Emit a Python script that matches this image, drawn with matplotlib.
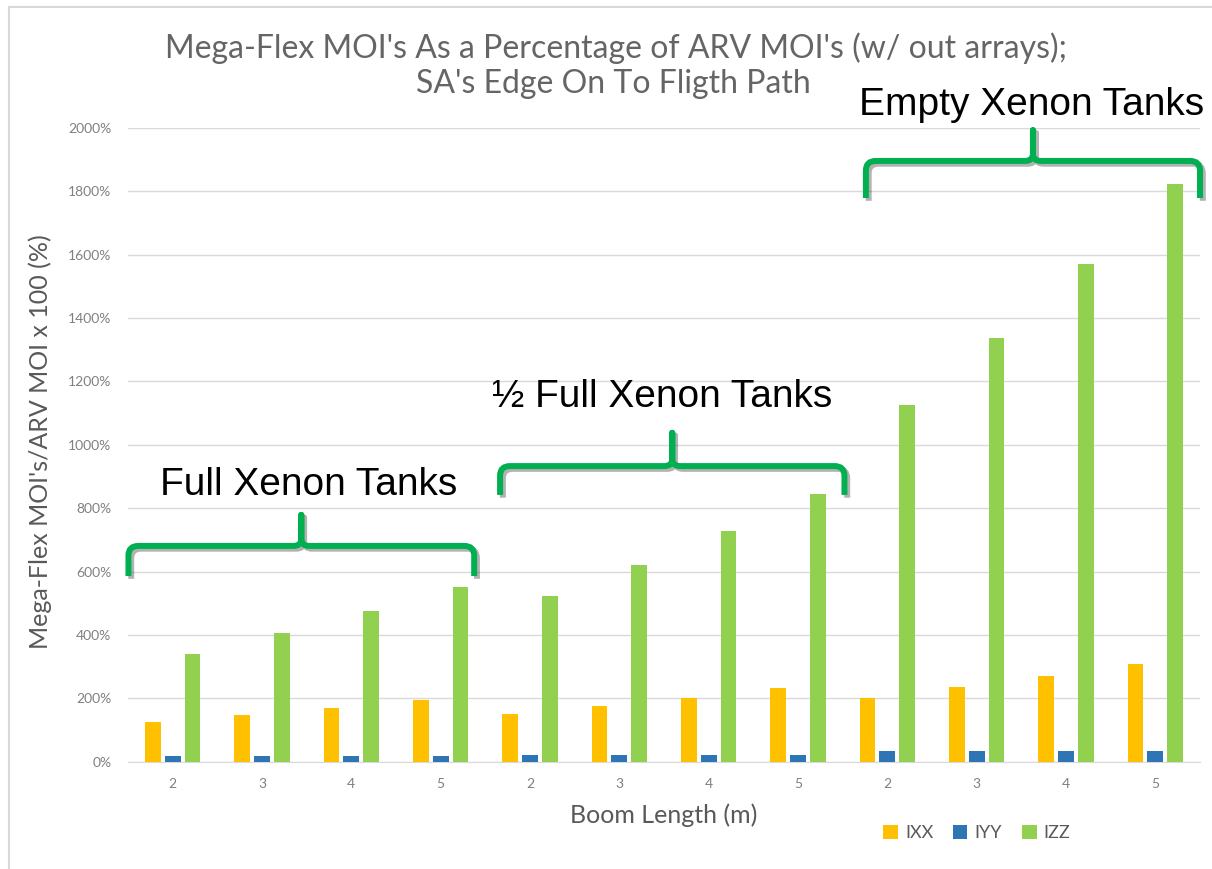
import matplotlib
matplotlib.use('Agg')
import matplotlib.pyplot as plt
import matplotlib.patheffects as pe
import numpy as np
from matplotlib.path import Path
from matplotlib.patches import PathPatch, Rectangle

# boom length categories, repeated for the three tank states
boom_lengths = ['2', '3', '4', '5']
tank_states = ['Full Xenon Tanks', '½ Full Xenon Tanks', 'Empty Xenon Tanks']
series_names = ['IXX', 'IYY', 'IZZ']
title_lines = ["Mega-Flex MOI's As a Percentage of ARV MOI's (w/ out arrays);",
               "SA's Edge On To Fligth Path"]

# MOI ratio in percent (full, half, empty)
ixx = [124, 146, 171, 195, 149, 176, 202, 232, 202, 235, 272, 309]
iyy = [17, 17, 17, 17, 21, 21, 21, 21, 33, 33, 33, 33]
izz = [341, 405, 475, 552, 523, 620, 727, 845, 1126, 1337, 1571, 1824]

# brace annotations: span in category index, levels in %
brace_x0 = [-0.495, 3.665, 7.76]
brace_x1 = [3.375, 7.52, 11.5]
brace_bottom = [586, 842, 1779]
brace_mid = [681, 933, 1896]
brace_tip = [779, 1038, 1993]
label_x = [1.52, 5.48, 9.61]
label_y = [842, 1120, 2041]

colors = ['#FFC000', '#2E75B6', '#92D050']
grey = '#595959'

plt.rcParams['font.family'] = ['Lato', 'DejaVu Sans']

fig = plt.figure(figsize=(12.12, 8.69), dpi=100)
ax = fig.add_axes([128 / 1212, 1 - 761.7 / 869, 1072 / 1212, 633.7 / 869])

x = np.arange(len(boom_lengths) * len(tank_states))
width = 0.178
step = 0.222
bars = []
for i, (vals, name) in enumerate(zip([ixx, iyy, izz], series_names)):
    b = ax.bar(x + (i - 1) * step, vals, width, color=colors[i], label=name, zorder=3)
    bars.append(b)

ax.set_xlim(-0.5, len(x) - 0.5)
ax.set_ylim(0, 2000)
ax.set_yticks(np.arange(0, 2001, 200))
ax.set_yticklabels([f'{v}%' for v in range(0, 2001, 200)])
ax.set_xticks(x)
ax.set_xticklabels(boom_lengths * len(tank_states))
ax.tick_params(axis='both', length=0, labelsize=10, labelcolor='#808080')
ax.tick_params(axis='y', pad=12)
ax.tick_params(axis='x', pad=12)
ax.grid(axis='y', color='#D9D9D9', lw=1, zorder=0)
for s in ['top', 'right', 'left']:
    ax.spines[s].set_visible(False)
ax.spines['bottom'].set_color('#D9D9D9')
ax.set_axisbelow(True)

ax.set_ylabel("Mega-Flex MOI's/ARV MOI x 100 (%)", fontsize=18, color=grey)
ax.yaxis.set_label_coords(-0.071, 0.505)
ax.set_xlabel('Boom Length (m)', fontsize=18, color=grey)
ax.xaxis.set_label_coords(0.5, -0.084)
ax.xaxis.label.set_va('center')

# title, one text per line so it stays clear of the "Empty" label
fig.text(0.508, 1 - 58.3 / 869, title_lines[0], ha='center', va='baseline',
         fontsize=23, color='#656565')
fig.text(0.506, 1 - 92.7 / 869, title_lines[1], ha='center', va='baseline',
         fontsize=23, color='#656565')

fig.legend(handles=bars, loc='center', bbox_to_anchor=(0.806, 0.041), ncol=3, frameon=False,
           fontsize=13, labelcolor=grey, handlelength=0.8, handleheight=0.8, handletextpad=0.4,
           columnspacing=1.1)


def brace(ax, x0, x1, yb, ym, yt):
    xm = (x0 + x1) / 2
    dx = 0.11
    dy = 30
    dc = 22
    verts = [(x0, yb), (x0, ym - dy), (x0, ym), (x0 + dx, ym),
             (xm - dx * 0.8, ym), (xm, ym), (xm, ym + dc), (xm, yt),
             (xm, ym + dc), (xm, ym), (xm + dx * 0.8, ym),
             (x1 - dx, ym), (x1, ym), (x1, ym - dy), (x1, yb)]
    codes = [Path.MOVETO, Path.LINETO, Path.CURVE3, Path.CURVE3,
             Path.LINETO, Path.CURVE3, Path.CURVE3, Path.LINETO,
             Path.LINETO, Path.CURVE3, Path.CURVE3,
             Path.LINETO, Path.CURVE3, Path.CURVE3, Path.LINETO]
    p = PathPatch(Path(verts, codes), fill=False, edgecolor='#00B050', lw=4.3,
                  joinstyle='round', capstyle='butt', clip_on=False, zorder=5,
                  path_effects=[pe.SimpleLineShadow(offset=(2, -2), shadow_color='k', alpha=0.3),
                                pe.Normal()])
    ax.add_patch(p)


for i in range(len(tank_states)):
    brace(ax, brace_x0[i], brace_x1[i], brace_bottom[i], brace_mid[i], brace_tip[i])
    ax.text(label_x[i], label_y[i], tank_states[i], ha='center', va='baseline',
            fontsize=28, family='Liberation Sans', color='black', zorder=6)

fig.patches.append(Rectangle((9 / 1212, -0.05), 1.1, 1.05 - 7 / 869, transform=fig.transFigure,
                             fill=False, edgecolor='#D9D9D9', lw=1.5))

fig.savefig('out.png', dpi=100)
